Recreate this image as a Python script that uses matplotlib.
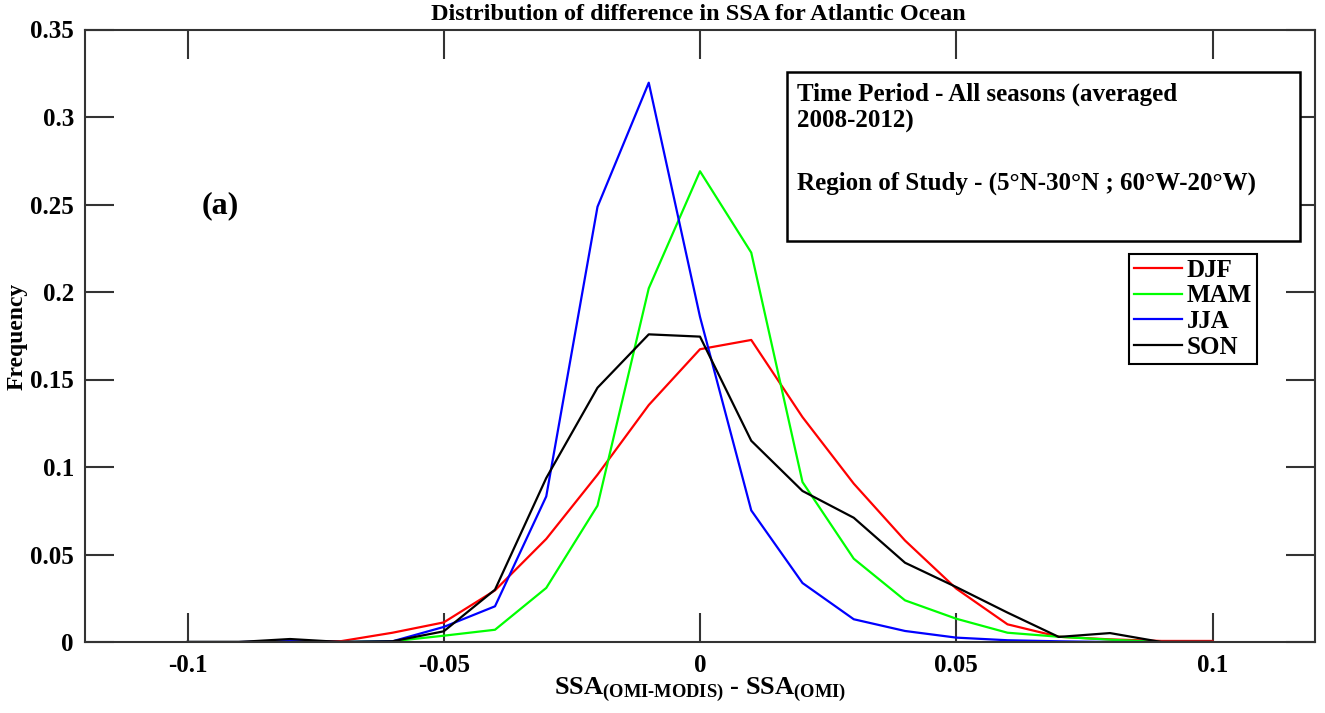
import matplotlib
matplotlib.use("Agg")
import matplotlib.pyplot as plt
from matplotlib.patches import Rectangle

plt.rcParams['font.family'] = ['Liberation Serif', 'DejaVu Serif']
plt.rcParams['font.weight'] = 'bold'
plt.rcParams['mathtext.fontset'] = 'custom'
plt.rcParams['mathtext.rm'] = 'Liberation Serif:bold'
plt.rcParams['mathtext.bf'] = 'Liberation Serif:bold'
plt.rcParams['mathtext.it'] = 'Liberation Serif:bold'

# ---- data ----
x_bins = [-0.10, -0.09, -0.08, -0.07, -0.06, -0.05, -0.04, -0.03, -0.02, -0.01,
          0.00, 0.01, 0.02, 0.03, 0.04, 0.05, 0.06, 0.07, 0.08, 0.09, 0.10]
djf = [0.0, 0.0, 0.0, 0.0005, 0.0053, 0.0112, 0.0295, 0.0589, 0.0956, 0.1354,
       0.1673, 0.1726, 0.1285, 0.0905, 0.0580, 0.0305, 0.0101, 0.0030, 0.0015, 0.0006, 0.0006]
mam = [0.0, 0.0, 0.0, 0.0, 0.0004, 0.0036, 0.0070, 0.0309, 0.0779, 0.2021,
       0.2690, 0.2225, 0.0914, 0.0476, 0.0238, 0.0133, 0.0053, 0.0030, 0.0013, 0.0, 0.0]
jja = [0.0, 0.0, 0.0005, 0.0, 0.0004, 0.0086, 0.0204, 0.0832, 0.2487, 0.3196,
       0.1858, 0.0752, 0.0337, 0.0130, 0.0063, 0.0025, 0.0010, 0.0004, 0.0, 0.0, 0.0]
son = [0.0, 0.0, 0.0017, 0.0, 0.0004, 0.0061, 0.0299, 0.0937, 0.1453, 0.1758,
       0.1745, 0.1150, 0.0863, 0.0710, 0.0453, 0.0314, 0.0168, 0.0029, 0.0051, 0.0, 0.0]
series_names = ['DJF', 'MAM', 'JJA', 'SON']
series_colors = ['#ff0000', '#00ff00', '#0000ff', '#000000']

xtick_vals = [-0.1, -0.05, 0, 0.05, 0.1]
xtick_labels = ['-0.1', '-0.05', '0', '0.05', '0.1']
ytick_vals = [0, 0.05, 0.1, 0.15, 0.2, 0.25, 0.3, 0.35]
ytick_labels = ['0', '0.05', '0.1', '0.15', '0.2', '0.25', '0.3', '0.35']

W, H = 1325, 713
fig = plt.figure(figsize=(W / 100, H / 100), dpi=100)
L, R, T, B = 85, 1315, 29.5, 642
ax = fig.add_axes([L / W, 1 - B / H, (R - L) / W, (B - T) / H])

for name, vals, c in zip(series_names, [djf, mam, jja, son], series_colors):
    ax.plot(x_bins, vals, color=c, lw=1.6, label=name)

ax.set_xlim(-0.12, 0.12)
ax.set_ylim(0, 0.35)
ax.set_xticks(xtick_vals)
ax.set_xticklabels(xtick_labels)
ax.set_yticks(ytick_vals)
ax.set_yticklabels(ytick_labels)
ax.tick_params(direction='in', length=21, width=1.5, color='#333333',
               top=True, right=True, labelsize=18)
ax.tick_params(axis='y', pad=8)
ax.tick_params(axis='x', pad=9)
for s in ax.spines.values():
    s.set_linewidth(1.5)
    s.set_color('#333333')

ax.set_ylabel('Frequency', fontsize=17, fontweight='bold')
ax.yaxis.set_label_coords((17 - L) / (R - L), (B - 336) / (B - T))
ax.yaxis.label.set_va('center')
ax.set_xlabel(r'SSA$_{\text{(OMI-MODIS)}}$ - SSA$_{\text{(OMI)}}$', fontsize=19, fontweight='bold')
ax.xaxis.set_label_coords((700 - L) / (R - L), (B - 690) / (B - T))
ax.xaxis.label.set_va('center')

fig.text(698 / W, 1 - 15 / H, 'Distribution of difference in SSA for Atlantic Ocean',
         ha='center', va='center', fontsize=17.5, fontweight='bold')

def axx(px):
    return (px - L) / (R - L)

def axy(py):
    return (B - py) / (B - T)

ax.text(axx(220), axy(206), '(a)', fontsize=23, fontweight='bold', ha='center', va='center',
        transform=ax.transAxes)

rect = Rectangle((axx(787), axy(241)), axx(1300) - axx(787), axy(72) - axy(241),
                 transform=ax.transAxes, fill=True, facecolor='white', edgecolor='black',
                 lw=1.8, zorder=5)
ax.add_patch(rect)
for txt, py in [('Time Period - All seasons (averaged', 94), ('2008-2012)', 121),
                ('Region of Study - (5°N-30°N ; 60°W-20°W)', 183)]:
    ax.text(axx(797), axy(py), txt, transform=ax.transAxes, fontsize=18, fontweight='bold',
            ha='left', va='center', zorder=6)

leg = ax.legend(loc='upper left', bbox_to_anchor=(axx(1129), axy(254)), borderaxespad=0,
                fancybox=False, edgecolor='black', framealpha=1,
                handlelength=1.9, handletextpad=0.2, labelspacing=0.1, borderpad=0.2,
                prop={'weight': 'bold', 'size': 18})
leg.get_frame().set_linewidth(1.5)

fig.savefig('out.png', dpi=100)
